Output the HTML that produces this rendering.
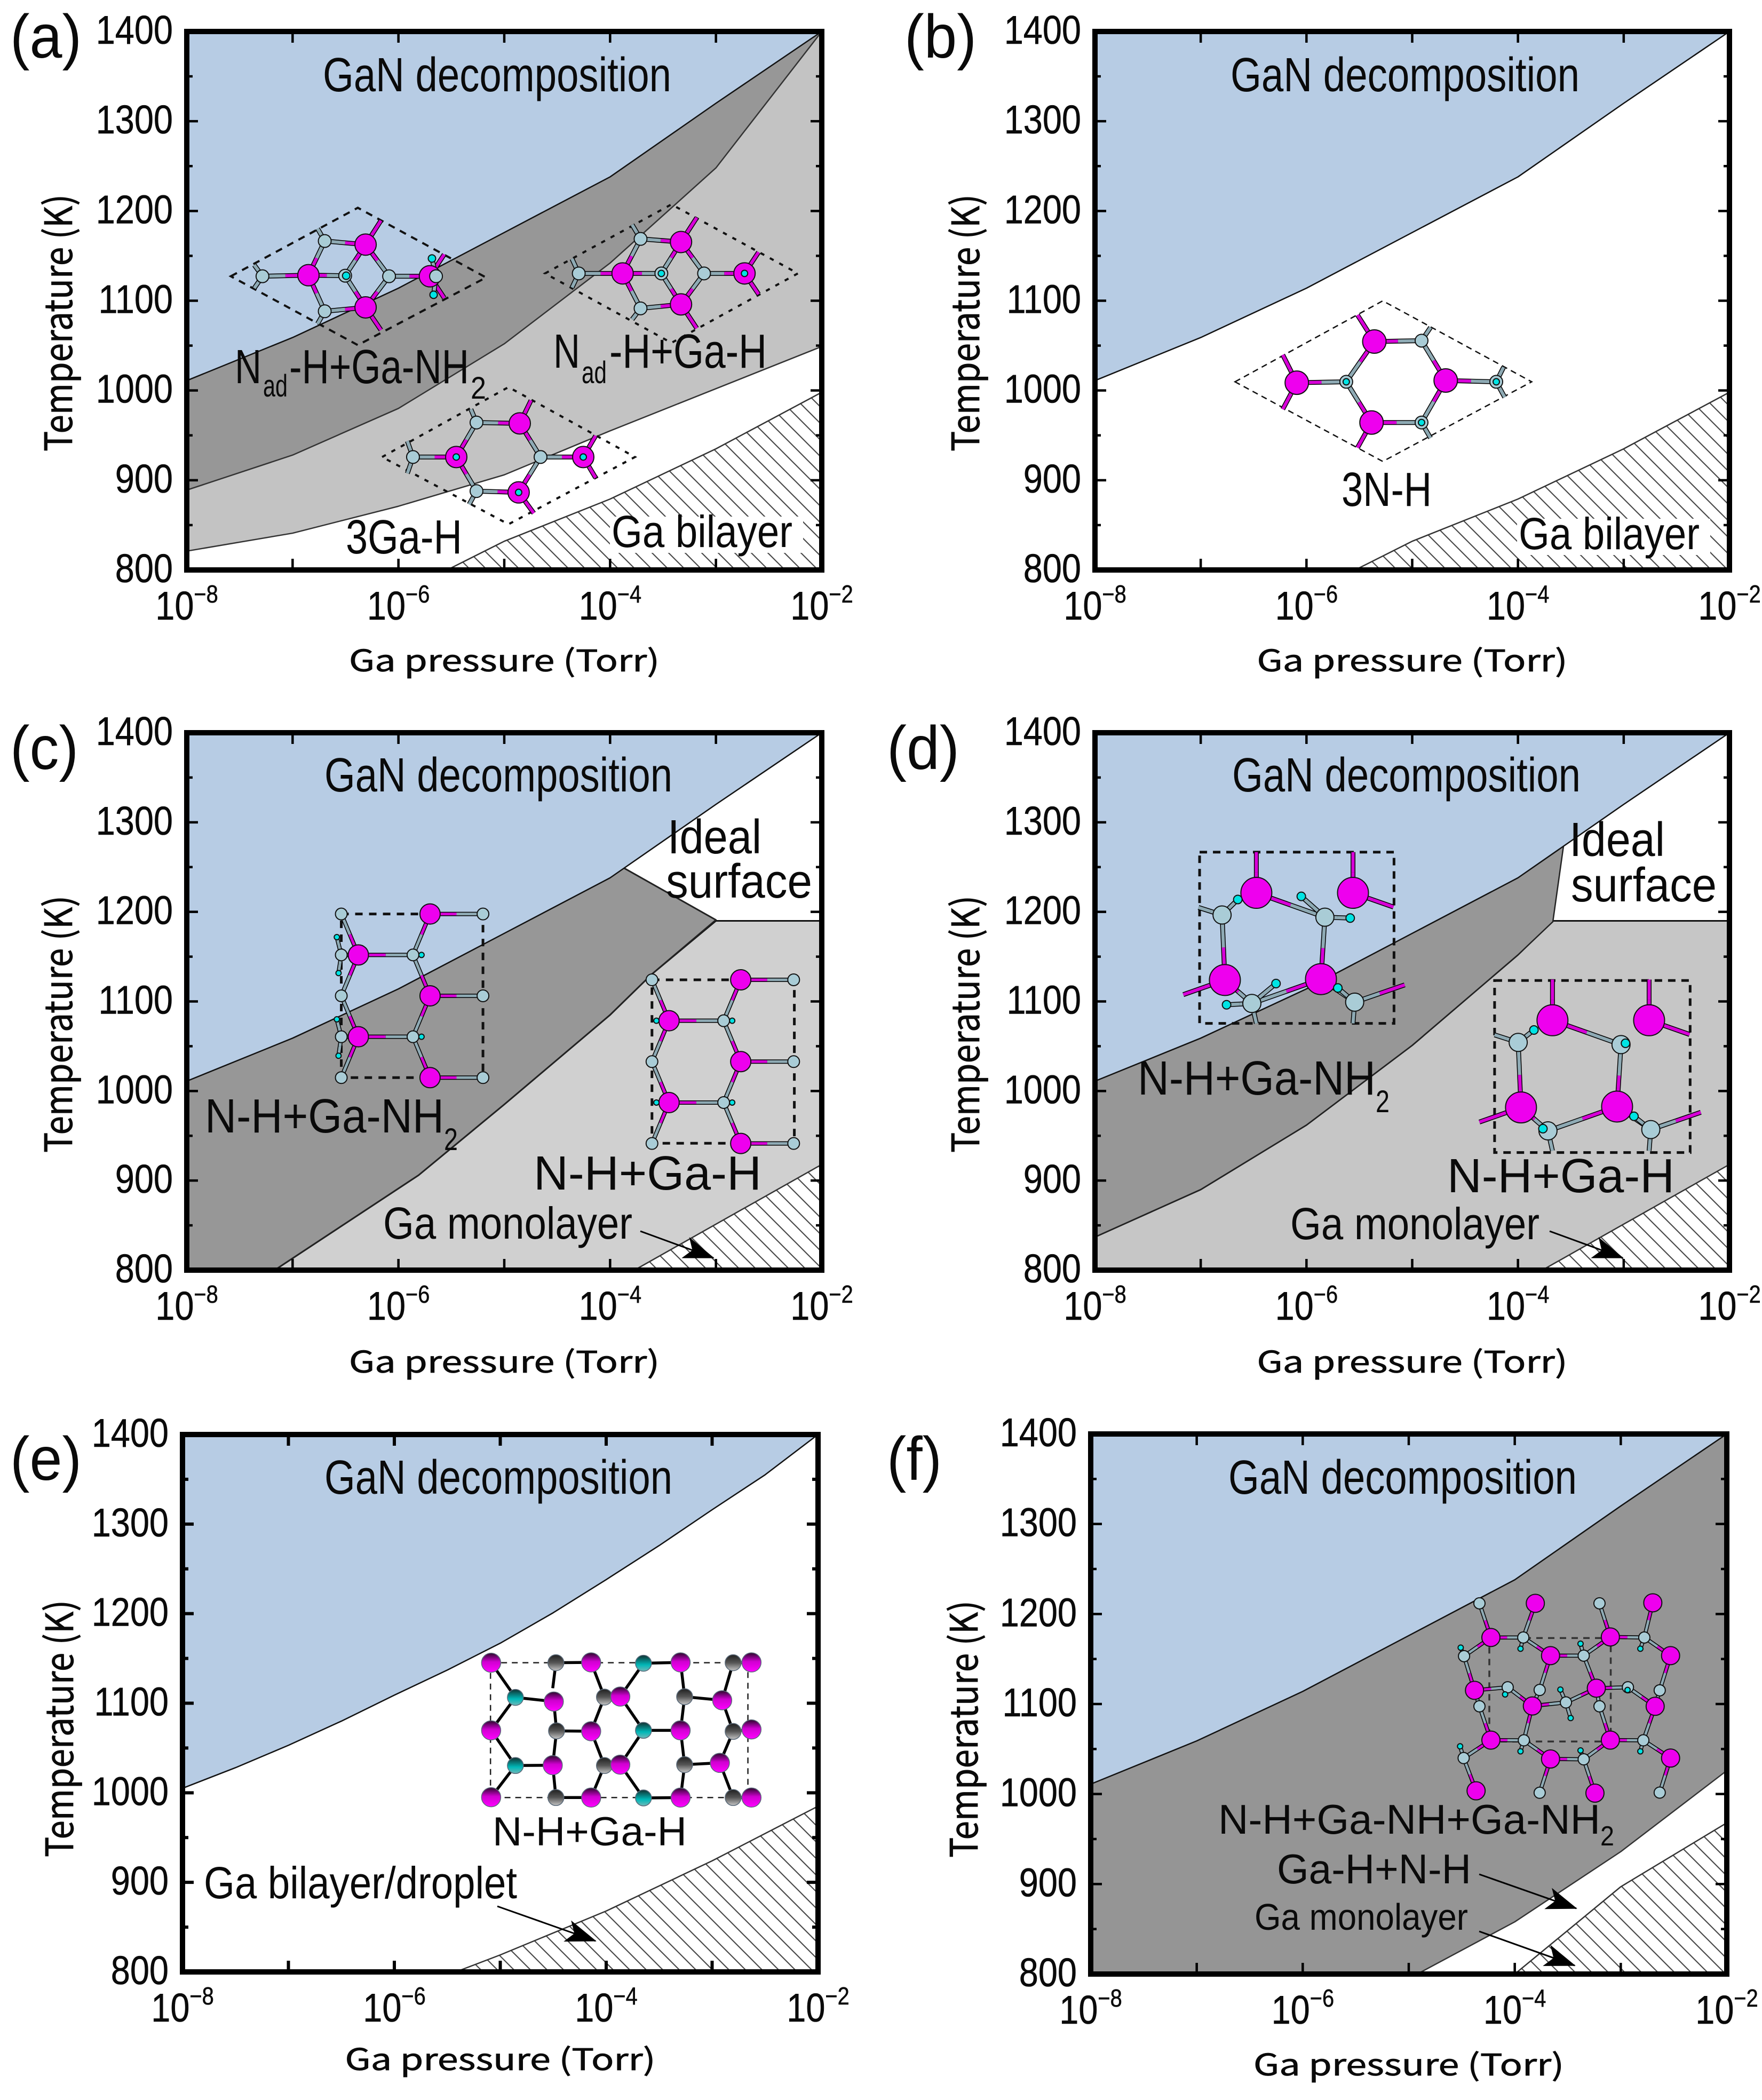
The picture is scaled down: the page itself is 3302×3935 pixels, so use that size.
<!DOCTYPE html>
<html lang="en">
<head>
<meta charset="utf-8">
<title>GaN surface phase diagrams</title>
<style>
html,body{margin:0;padding:0;background:#fff;}
svg{display:block;}
text{font-family:"Liberation Sans","Noto Sans CJK JP",sans-serif;fill:#0a0a0a;}
.axis-title{font-family:"Noto Sans CJK JP","Liberation Sans",sans-serif;font-weight:400;stroke:#0a0a0a;stroke-width:.8px;}
.tick-text{stroke:#0a0a0a;stroke-width:.6px;}
</style>
</head>
<body>
<svg id="figure" xmlns="http://www.w3.org/2000/svg" width="3302" height="3935" viewBox="0 0 3302 3935">
<defs>
<pattern id="hatch" patternUnits="userSpaceOnUse" width="31" height="31">
<path d="M-8 -8L39 39M-8 23L8 39M23 -8L39 8" stroke="#4a4a4a" stroke-width="2.2" fill="none"/>
</pattern>
<marker id="arrow-head" markerUnits="userSpaceOnUse" markerWidth="60" markerHeight="46" refX="56" refY="23" orient="auto">
<path d="M0 2L58 23L0 44L14 23Z" fill="#000"/>
</marker>
<linearGradient id="ga-shade" x1="0" y1="0" x2="0" y2="1"><stop offset="0" stop-color="#2a082a"/><stop offset=".45" stop-color="#d000d0"/><stop offset="1" stop-color="#ff00ff"/></linearGradient>
<linearGradient id="n-shade" x1="0" y1="0" x2="0" y2="1"><stop offset="0" stop-color="#202020"/><stop offset=".5" stop-color="#555"/><stop offset="1" stop-color="#c4c4c4"/></linearGradient>
<linearGradient id="teal-shade" x1="0" y1="0" x2="0" y2="1"><stop offset="0" stop-color="#103030"/><stop offset=".6" stop-color="#00b8b8"/><stop offset="1" stop-color="#70b8b8"/></linearGradient>
</defs>

<rect x="0" y="0" width="3302" height="3935" fill="#fff"/>
<g id="panel-a"></g>
<g id="panel-b"></g>
<g id="panel-c"></g>
<g id="panel-d"></g>
<g id="panel-e"></g>
<g id="panel-f"></g>

<!-- Panel letters -->
<text x="19" y="108" font-size="115" textLength="134" lengthAdjust="spacingAndGlyphs">(a)</text>
<text x="1695" y="108" font-size="115" textLength="135" lengthAdjust="spacingAndGlyphs">(b)</text>
<text x="19" y="1441" font-size="115" textLength="128" lengthAdjust="spacingAndGlyphs">(c)</text>
<text x="1662" y="1441" font-size="115" textLength="136" lengthAdjust="spacingAndGlyphs">(d)</text>
<text x="19" y="2773" font-size="115" textLength="134" lengthAdjust="spacingAndGlyphs">(e)</text>
<text x="1662" y="2773" font-size="115" textLength="103" lengthAdjust="spacingAndGlyphs">(f)</text>

<!-- Panel a annotations -->
<g>
<text x="605" y="171" font-size="90" textLength="653" lengthAdjust="spacingAndGlyphs">GaN decomposition</text>
<text x="440" y="718" font-size="90" textLength="50" lengthAdjust="spacingAndGlyphs">N</text>
<text x="493" y="743" font-size="58" textLength="46" lengthAdjust="spacingAndGlyphs">ad</text>
<text x="542" y="718" font-size="90" textLength="337" lengthAdjust="spacingAndGlyphs">-H+Ga-NH</text>
<text x="882" y="747" font-size="58" textLength="29" lengthAdjust="spacingAndGlyphs">2</text>
<text x="1037" y="689" font-size="90" textLength="50" lengthAdjust="spacingAndGlyphs">N</text>
<text x="1090" y="718" font-size="58" textLength="47" lengthAdjust="spacingAndGlyphs">ad</text>
<text x="1142" y="689" font-size="90" textLength="295" lengthAdjust="spacingAndGlyphs">-H+Ga-H</text>
<text x="648" y="1037" font-size="90" textLength="218" lengthAdjust="spacingAndGlyphs">3Ga-H</text>
<rect x="1143" y="968" width="362" height="68" fill="#fff"/>
<text x="1146" y="1025" font-size="84" textLength="339" lengthAdjust="spacingAndGlyphs">Ga bilayer</text>
</g>

<!-- Panel b annotations -->
<g>
<text x="2306" y="171" font-size="90" textLength="654" lengthAdjust="spacingAndGlyphs">GaN decomposition</text>
<text x="2514" y="948" font-size="90" textLength="169" lengthAdjust="spacingAndGlyphs">3N-H</text>
<rect x="2843" y="972" width="362" height="68" fill="#fff"/>
<text x="2846" y="1029" font-size="84" textLength="339" lengthAdjust="spacingAndGlyphs">Ga bilayer</text>
</g>

<!-- Panel c annotations -->
<g>
<text x="608" y="1483" font-size="90" textLength="652" lengthAdjust="spacingAndGlyphs">GaN decomposition</text>
<text x="1251" y="1599" font-size="90" textLength="176" lengthAdjust="spacingAndGlyphs">Ideal</text>
<text x="1248" y="1682" font-size="90" textLength="274" lengthAdjust="spacingAndGlyphs">surface</text>
<text x="384" y="2122" font-size="90" textLength="448" lengthAdjust="spacingAndGlyphs">N-H+Ga-NH</text>
<text x="832" y="2155" font-size="58" textLength="26" lengthAdjust="spacingAndGlyphs">2</text>
<text x="1000" y="2229" font-size="90" textLength="427" lengthAdjust="spacingAndGlyphs">N-H+Ga-H</text>
<text x="718" y="2321" font-size="84" textLength="467" lengthAdjust="spacingAndGlyphs">Ga monolayer</text>
<line x1="1200" y1="2307" x2="1337" y2="2357" stroke="#000" stroke-width="3" marker-end="url(#arrow-head)"/>
</g>

<!-- Panel d annotations -->
<g>
<text x="2309" y="1483" font-size="90" textLength="653" lengthAdjust="spacingAndGlyphs">GaN decomposition</text>
<text x="2941" y="1604" font-size="90" textLength="179" lengthAdjust="spacingAndGlyphs">Ideal</text>
<text x="2944" y="1689" font-size="90" textLength="273" lengthAdjust="spacingAndGlyphs">surface</text>
<text x="2132" y="2051" font-size="90" textLength="446" lengthAdjust="spacingAndGlyphs">N-H+Ga-NH</text>
<text x="2578" y="2084" font-size="58" textLength="26" lengthAdjust="spacingAndGlyphs">2</text>
<text x="2712" y="2234" font-size="90" textLength="426" lengthAdjust="spacingAndGlyphs">N-H+Ga-H</text>
<text x="2418" y="2322" font-size="84" textLength="467" lengthAdjust="spacingAndGlyphs">Ga monolayer</text>
<line x1="2904" y1="2307" x2="3041" y2="2357" stroke="#000" stroke-width="3" marker-end="url(#arrow-head)"/>
</g>

<!-- Panel e annotations -->
<g>
<text x="608" y="2799" font-size="90" textLength="652" lengthAdjust="spacingAndGlyphs">GaN decomposition</text>
<text x="923" y="3458" font-size="76" textLength="364" lengthAdjust="spacingAndGlyphs">N-H+Ga-H</text>
<text x="382" y="3557" font-size="84" textLength="587" lengthAdjust="spacingAndGlyphs">Ga bilayer/droplet</text>
<line x1="932" y1="3572" x2="1116" y2="3637" stroke="#000" stroke-width="3" marker-end="url(#arrow-head)"/>
</g>

<!-- Panel f annotations -->
<g>
<text x="2302" y="2799" font-size="90" textLength="653" lengthAdjust="spacingAndGlyphs">GaN decomposition</text>
<text x="2283" y="3436" font-size="78" textLength="716" lengthAdjust="spacingAndGlyphs">N-H+Ga-NH+Ga-NH</text>
<text x="2999" y="3458" font-size="52" textLength="26" lengthAdjust="spacingAndGlyphs">2</text>
<text x="2393" y="3529" font-size="78" textLength="364" lengthAdjust="spacingAndGlyphs">Ga-H+N-H</text>
<text x="2351" y="3616" font-size="70" textLength="400" lengthAdjust="spacingAndGlyphs">Ga monolayer</text>
<line x1="2772" y1="3512" x2="2954" y2="3576" stroke="#000" stroke-width="3" marker-end="url(#arrow-head)"/>
<line x1="2772" y1="3619" x2="2951" y2="3683" stroke="#000" stroke-width="3" marker-end="url(#arrow-head)"/>
</g>
</svg>

<script>
// ---------- chart data (log10 Ga pressure in Torr, temperature in K) ----------
const decompLogP = [-8, -7, -6, -5, -4, -3, -2];
const decompT = [1011, 1059, 1114, 1176, 1238, 1320, 1400];

const eDecompLogP = [-8, -7.5, -7, -6.5, -6, -5.5, -5, -4.5, -4, -3.5, -3, -2.5, -2];
const eDecompT = [1005, 1028, 1053, 1080, 1109, 1137, 1167, 1201, 1238, 1276, 1316, 1355, 1400];

const aUpperLogP = [-8, -7, -6, -5, -4, -3, -2];
const aUpperT = [889, 928, 980, 1052, 1142, 1248, 1400];
const aLowerLogP = [-8, -7, -6, -5, -4, -3, -2];
const aLowerT = [821, 841, 871, 906, 955, 1002, 1049];

const bilayerLogP = [-5.54, -5, -4, -3, -2];
const bilayerT = [800, 832, 879, 935, 998];

const cBoundaryLogP = [-7.17, -5.81, -5, -4, -3.61, -3, -3.87];
const cBoundaryT = [800, 906, 985, 1085, 1130, 1191, 1249];
const cFlatLogP = [-7.17, -5.81, -5, -4, -3.61, -3, -2];
const cFlatT = [800, 906, 985, 1085, 1130, 1190, 1190];

const dBoundaryLogP = [-8, -7, -6, -5, -4, -3.67, -3.57];
const dBoundaryT = [837, 890, 962, 1051, 1152, 1189, 1273];
const dFlatLogP = [-8, -7, -6, -5, -4, -3.67, -2];
const dFlatT = [837, 890, 962, 1051, 1152, 1190, 1190];

const monolayerLogP = [-3.77, -2];
const monolayerT = [800, 918];

const eDropletLogP = [-5.42, -5, -4, -3, -2];
const eDropletT = [800, 819, 868, 924, 985];

const fBoundaryLogP = [-4.92, -4, -3, -2];
const fBoundaryT = [800, 858, 936, 1026];
const fMonolayerLogP = [-4, -3, -2];
const fMonolayerT = [800, 897, 968];

const tempTickLabels = [800, 900, 1000, 1100, 1200, 1300, 1400];
const pressureExponentLabels = [-8, -6, -4, -2];
const xAxisTitle = 'Ga pressure (Torr)';
const yAxisTitle = 'Temperature (K)';

const BLUE = '#b7cce4', DARK = '#979797';

const PANELS = {
  a:{l:350,r:1540,t:59,b:1068,yTitleX:135,yTitleC:605,xTitleDy:190,tickW:4.5},
  b:{l:2052,r:3241,t:59,b:1068,yTitleX:1835,yTitleC:605,xTitleDy:190,tickW:4.5},
  c:{l:350,r:1540,t:1373,b:2380,yTitleX:135,yTitleC:1919,xTitleDy:192,tickW:4.5},
  d:{l:2052,r:3241,t:1373,b:2380,yTitleX:1835,yTitleC:1919,xTitleDy:192,tickW:4.5},
  e:{l:342,r:1533,t:2688,b:3695,yTitleX:137,yTitleC:3239,xTitleDy:184,tickW:6},
  f:{l:2044,r:3236,t:2687,b:3699,yTitleX:1832,yTitleC:3240,xTitleDy:190,tickW:4.5}
};

const SVGNS = 'http://www.w3.org/2000/svg';
function make(tag, name, attrs, parent){
  const el = document.createElementNS(SVGNS, tag);
  
  
  for (const k in attrs) el.setAttribute(k, attrs[k]);
  parent.appendChild(el);
  return el;
}
function xScale(p, v){ return p.l + (v + 8) / 6 * (p.r - p.l); }
function yScale(p, v){ return p.b - (v - 800) / 600 * (p.b - p.t); }
function pointList(p, xs, ys){ return xs.map((x, i) => xScale(p, x) + ',' + yScale(p, ys[i])); }

// region bounded by a curve; extra closes the polygon in data coordinates
function region(g, p, name, xs, ys, fill, before, after){
  const pts = [];
  before.forEach(c => pts.push(xScale(p, c[0]) + ',' + yScale(p, c[1])));
  pointList(p, xs, ys).forEach(s => pts.push(s));
  after.forEach(c => pts.push(xScale(p, c[0]) + ',' + yScale(p, c[1])));
  make('polygon', name, {points: pts.join(' '), fill: fill}, g);
}
function curve(g, p, name, xs, ys, color, w){
  make('polyline', name, {points: pointList(p, xs, ys).join(' '), fill: 'none', stroke: color, 'stroke-width': w, 'stroke-linejoin': 'round'}, g);
}
function aboveDecomp(g, p, xs, ys){
  region(g, p, 'gan-decomposition-region', xs, ys, BLUE, [], [[-2,1400],[-8,1400]]);
  curve(g, p, 'gan-decomposition-boundary', xs, ys, '#111', 2.5);
}
function hatched(g, p, name, xs, ys){
  region(g, p, name + '-base', xs, ys, '#fff', [], [[-2,800]]);
  region(g, p, name, xs, ys, 'url(#hatch)', [], [[-2,800]]);
  curve(g, p, name + '-boundary', xs, ys, '#333', 2.5);
}

function drawAxes(g, p, key){
  make('rect', 'plot-frame', {x:p.l, y:p.t, width:p.r-p.l, height:p.b-p.t, fill:'none', stroke:'#000', 'stroke-width':10}, g);
  for (let e = -7; e <= -3; e++){
    const x = xScale(p, e);
    make('line', 'x-tick-bottom', {x1:x, x2:x, y1:p.b, y2:p.b-21, stroke:'#000', 'stroke-width':p.tickW}, g);
    make('line', 'x-tick-top', {x1:x, x2:x, y1:p.t, y2:p.t+21, stroke:'#000', 'stroke-width':p.tickW}, g);
  }
  tempTickLabels.forEach((T, i) => {
    const y = yScale(p, T);
    if (i > 0 && i < tempTickLabels.length - 1){
      make('line', 'y-tick-left', {x1:p.l, x2:p.l+21, y1:y, y2:y, stroke:'#000', 'stroke-width':p.tickW}, g);
      make('line', 'y-tick-right', {x1:p.r, x2:p.r-21, y1:y, y2:y, stroke:'#000', 'stroke-width':p.tickW}, g);
    }
    if (i < tempTickLabels.length - 1){
      const ym = yScale(p, (T + tempTickLabels[i+1]) / 2);
      make('line', 'y-minor-tick-left', {x1:p.l, x2:p.l+11, y1:ym, y2:ym, stroke:'#000', 'stroke-width':p.tickW}, g);
      make('line', 'y-minor-tick-right', {x1:p.r, x2:p.r-11, y1:ym, y2:ym, stroke:'#000', 'stroke-width':p.tickW}, g);
    }
    const t = make('text', 'y-tick-label', {class:'tick-text', x:0, y:0, 'font-size':75, 'text-anchor':'end', transform:'translate(' + (p.l-26) + ',' + (y+23) + ') scale(0.865,1)'}, g);
    t.textContent = String(T);
  });
  pressureExponentLabels.forEach(e => {
    const t = make('text', 'x-tick-label', {class:'tick-text', x:0, y:0, 'font-size':75, 'text-anchor':'middle', transform:'translate(' + xScale(p, e) + ',' + (p.b+93) + ') scale(0.865,1)'}, g);
    const base = make('tspan', 'x-tick-base', {}, t);
    base.textContent = '10';
    const exp = make('tspan', 'x-tick-exponent', {dy:-32, 'font-size':46}, t);
    exp.textContent = '\u2212' + Math.abs(e);
  });
  const xt = make('text', 'x-axis-title', {class:'axis-title', x:(p.l+p.r)/2, y:p.b+p.xTitleDy, 'font-size':56, 'text-anchor':'middle', textLength:582, lengthAdjust:'spacingAndGlyphs'}, g);
  xt.textContent = xAxisTitle;
  const yt = make('text', 'y-axis-title', {class:'axis-title', x:0, y:0, 'font-size':71, 'text-anchor':'middle', textLength:482, lengthAdjust:'spacingAndGlyphs', transform:'translate('+p.yTitleX+','+p.yTitleC+') rotate(-90)'}, g);
  yt.textContent = yAxisTitle;
}

// ---------- regions per panel ----------
function drawRegions(){
  let p = PANELS.a, g = document.getElementById('panel-a');
  region(g, p, 'nad-h-ga-h-region', aLowerLogP, aLowerT, '#c3c3c3', [], [[-2,1400],[-8,1400]]);
  curve(g, p, 'nad-h-ga-h-lower-boundary', aLowerLogP, aLowerT, '#333', 2.5);
  region(g, p, 'nad-h-ga-nh2-region', aUpperLogP, aUpperT, DARK, [], [[-8,1400]]);
  curve(g, p, 'nad-h-ga-nh2-lower-boundary', aUpperLogP, aUpperT, '#333', 2.5);
  aboveDecomp(g, p, decompLogP, decompT);
  hatched(g, p, 'ga-bilayer-region', bilayerLogP, bilayerT);

  p = PANELS.b; g = document.getElementById('panel-b');
  aboveDecomp(g, p, decompLogP, decompT);
  hatched(g, p, 'ga-bilayer-region', bilayerLogP, bilayerT);

  p = PANELS.c; g = document.getElementById('panel-c');
  region(g, p, 'n-h-ga-h-region', cFlatLogP, cFlatT, '#d0d0d0', [], [[-2,800]]);
  curve(g, p, 'n-h-ga-h-upper-boundary', cFlatLogP, cFlatT, '#111', 3);
  region(g, p, 'n-h-ga-nh2-region', cBoundaryLogP, cBoundaryT, DARK, [[-8,800]], [[-8,1400]]);
  curve(g, p, 'n-h-ga-nh2-boundary', cBoundaryLogP, cBoundaryT, '#222', 3);
  aboveDecomp(g, p, decompLogP, decompT);
  hatched(g, p, 'ga-monolayer-region', monolayerLogP, monolayerT);

  p = PANELS.d; g = document.getElementById('panel-d');
  region(g, p, 'n-h-ga-h-region', dFlatLogP, dFlatT, '#c6c6c6', [], [[-2,800],[-8,800]]);
  curve(g, p, 'n-h-ga-h-upper-boundary', dFlatLogP, dFlatT, '#111', 3);
  region(g, p, 'n-h-ga-nh2-region', dBoundaryLogP, dBoundaryT, DARK, [], [[-8,1400]]);
  curve(g, p, 'n-h-ga-nh2-boundary', dBoundaryLogP, dBoundaryT, '#222', 2.5);
  aboveDecomp(g, p, decompLogP, decompT);
  hatched(g, p, 'ga-monolayer-region', monolayerLogP, monolayerT);

  p = PANELS.e; g = document.getElementById('panel-e');
  aboveDecomp(g, p, eDecompLogP, eDecompT);
  hatched(g, p, 'ga-bilayer-droplet-region', eDropletLogP, eDropletT);

  p = PANELS.f; g = document.getElementById('panel-f');
  region(g, p, 'n-h-ga-nh-ga-nh2-region', fBoundaryLogP, fBoundaryT, '#959595', [[-8,800]], [[-2,1400],[-8,1400]]);
  curve(g, p, 'n-h-ga-nh-ga-nh2-boundary', fBoundaryLogP, fBoundaryT, '#333', 2.5);
  aboveDecomp(g, p, decompLogP, decompT);
  hatched(g, p, 'ga-monolayer-region', fMonolayerLogP, fMonolayerT);
}

// ---------- molecule insets (illustrations, measured in crop coordinates) ----------
function molecule(parentId, name, s){
  const root = document.getElementById(parentId);
  const g = make('g', name, {}, root);
  const mx = x => s.ox + x * s.sx, my = y => s.oy + y * s.sy;
  const w = s.bw || 6;
  const fills = Object.assign({G:'#ee00ee', N:'#a9ccd6', T:'#00a8a8', H:'#00e4e4'}, s.fills || {});
  const bondCol = Object.assign({G:'#d800d8', N:'#8eaab4', T:'#8eaab4', H:'#8eaab4'}, s.bondCol || {});
  const types = {};
  ['G','N','T','H'].forEach(t => (s[t] || []).forEach(a => { if (!types[a[0]+','+a[1]]) types[a[0]+','+a[1]] = t; }));
  if (s.rect || s.dash){
    let pts = s.dash;
    if (s.rect) { const r = s.rect; pts = [r[0],r[1],r[2],r[1],r[2],r[3],r[0],r[3]]; }
    const out = [];
    for (let i = 0; i < pts.length; i += 2) out.push(mx(pts[i]) + ',' + my(pts[i+1]));
    make('polygon', 'unit-cell-outline', {points: out.join(' '), fill:'none', stroke:s.dashCol || '#111', 'stroke-width':s.dashW || 3, 'stroke-dasharray':s.dashPat || '13 11'}, g);
  }
  (s.bonds || []).forEach(b => {
    const a = [mx(b[0]), my(b[1])], c = [mx(b[2]), my(b[3])];
    const ta = types[b[0]+','+b[1]] || 'N', tc = b[4] || types[b[2]+','+b[3]] || ta;
    make('line', 'bond-outline', {x1:a[0], y1:a[1], x2:c[0], y2:c[1], stroke:'#000', 'stroke-width':w+3}, g);
    const m = [(a[0]+c[0])/2, (a[1]+c[1])/2];
    make('line', 'bond', {x1:a[0], y1:a[1], x2:m[0], y2:m[1], stroke:bondCol[ta], 'stroke-width':w}, g);
    make('line', 'bond', {x1:m[0], y1:m[1], x2:c[0], y2:c[1], stroke:bondCol[tc], 'stroke-width':w}, g);
  });
  const labels = {G:'ga-atom', N:'n-atom', T:'n-atom', H:'h-atom'};
  const radii = {G:s.rG, N:s.rN, T:s.rN, H:s.rH || 6};
  (s.order || 'GNTH').split('').forEach(t => (s[t] || []).forEach(a => {
    make('circle', labels[t], {cx:mx(a[0]), cy:my(a[1]), r:radii[t], fill:fills[t], stroke:s.atomStroke || '#111', 'stroke-width':s.atomW || 2}, g);
  }));
}

function drawMolecules(){
  const Z1 = {ox:0, oy:0, sx:1.053, sy:0.829};
  molecule('panel-a', 'nad-h-ga-nh2-structure', {ox:400, oy:350, sx:0.3827, sy:0.3333, rG:20, rN:12, rH:7,
    dash:[85,503,707,118,1335,510,707,890], dashW:4,
    G:[[745,325],[465,497],[745,678],[1060,503]],
    N:[[545,305],[240,503],[645,500],[860,503],[545,700],[1090,503]],
    H:[[650,500],[1070,403],[1078,607]],
    bonds:[[545,305,745,325],[545,305,465,497],[465,497,545,700],[545,700,745,678],[745,678,860,503],[860,503,745,325],[240,503,465,497],[465,497,645,500],[645,500,745,325],[645,500,745,678],[860,503,1060,503],[745,325,820,190],[745,678,820,805],[545,305,510,235],[545,700,510,770],[240,503,200,440],[240,503,200,570],[1060,503,1130,380],[1060,503,1130,625],[1090,503,1070,403],[1090,503,1078,607]]});
  molecule('panel-a', 'nad-h-ga-h-structure', Object.assign({}, Z1, {rG:20, rN:12, rH:6,
    dash:[970,618,1195,462,1420,618,1195,775], dashW:4, dashPat:'8 12',
    G:[[1212,547],[1108,618],[1212,688],[1325,618]],
    N:[[1140,540],[1030,618],[1177,618],[1253,618],[1140,697]],
    H:[[1177,618],[1325,618]],
    bonds:[[1140,540,1212,547],[1140,540,1108,618],[1108,618,1140,697],[1140,697,1212,688],[1212,688,1253,618],[1253,618,1212,547],[1030,618,1108,618],[1108,618,1177,618],[1177,618,1212,547],[1177,618,1212,688],[1253,618,1325,618],[1212,547,1240,492],[1212,688,1240,742],[1140,540,1125,508],[1140,697,1125,722],[1030,618,1018,585],[1030,618,1018,650],[1325,618,1350,570],[1325,618,1350,665]]}));
  molecule('panel-a', '3ga-h-structure', Object.assign({}, Z1, {rG:20, rN:12, rH:6,
    dash:[680,1033,905,875,1130,1033,905,1185], dashW:4, dashPat:'8 12',
    G:[[925,957],[812,1033],[923,1113],[1038,1033]],
    N:[[848,955],[735,1033],[962,1033],[848,1110]],
    H:[[812,1033],[923,1113],[1038,1033]],
    bonds:[[848,955,925,957],[925,957,962,1033],[962,1033,923,1113],[923,1113,848,1110],[848,1110,812,1033],[812,1033,848,955],[735,1033,812,1033],[962,1033,1038,1033],[925,957,945,905],[1038,1033,1060,985],[1038,1033,1060,1080],[923,1113,950,1160],[735,1033,725,997],[735,1033,725,1070],[848,955,838,925],[848,1110,835,1140]]}));
  molecule('panel-b', '3n-h-structure', {ox:1651, oy:0, sx:1.053, sy:0.829, rG:22, rN:12, rH:6,
    dash:[630,863,893,680,1158,863,893,1043], dashW:2.5, dashPat:'11 8',
    G:[[878,772],[740,865],[1005,860],[873,955]],
    N:[[962,770],[828,863],[1095,863],[962,955]],
    H:[[828,863],[1095,863],[962,955]],
    bonds:[[878,772,962,770],[962,770,1005,860],[1005,860,962,955],[962,955,873,955],[873,955,828,863],[828,863,878,772],[740,865,828,863],[1005,860,1095,863],[878,772,848,712],[740,865,715,802],[740,865,715,925],[873,955,848,1012],[962,770,978,740],[1095,863,1108,830],[1095,863,1110,898],[962,955,978,990]]});

  const cG = [[400,158],[190,388],[400,618],[190,848],[400,1078]];
  const cN = [[140,158],[555,158],[350,388],[140,618],[555,618],[350,848],[140,1078],[555,1078]];
  const cB = [[140,158,190,388],[190,388,140,618],[140,618,190,848],[190,848,140,1078],[400,158,350,388],[350,388,400,618],[400,618,350,848],[350,848,400,1078],[400,158,555,158],[400,618,555,618],[400,1078,555,1078],[190,388,350,388],[190,848,350,848]];
  molecule('panel-c', 'n-h-ga-nh2-structure', {ox:550, oy:1660, sx:0.6398, sy:0.3333, rG:19, rN:11, rH:5, bw:5,
    rect:[140,158,555,1078], dashW:5, dashPat:'14 12',
    G:cG, N:cN.concat([[140,388],[140,848]]), H:[[375,388],[127,288],[132,490],[375,848],[127,750],[132,955]],
    bonds:cB.concat([[140,388,190,388],[140,848,190,848],[140,388,127,288],[140,388,132,490],[140,848,127,750],[140,848,132,955],[350,388,375,388],[350,848,375,848]]), order:'NGH'});
  const off = (arr, dx, dy) => arr.map(a => { const o = a.slice(); o[0]+=dx; o[1]+=dy; if (o.length>2){o[2]+=dx;o[3]+=dy;} return o; });
  molecule('panel-c', 'n-h-ga-h-structure', {ox:550, oy:1660, sx:0.6398, sy:0.3333, rG:19, rN:11, rH:5, bw:5,
    rect:[1050,528,1467,1447], dashW:5, dashPat:'14 12',
    G:off(cG,910,370), N:off(cN,910,370), H:[[1063,758],[1285,758],[1063,1218],[1285,1218]],
    bonds:off(cB,910,370).concat([[1100,758,1063,758],[1100,1218,1063,1218],[1260,758,1285,758],[1260,1218,1285,1218]]), order:'NGH'});

  const Z2 = {ox:1651, oy:1300, sx:1.053, sy:0.829};
  const dG = [[668,450],[840,450],[612,647],[783,645]];
  const dN = [[607,500],[790,505],[660,700],[843,697]];
  const dB = [[668,450,668,358],[840,450,840,358],[668,450,790,505],[840,450,912,482],[790,505,783,645],[607,500,612,647],[607,500,565,483],[612,647,538,680],[612,647,660,700],[660,700,783,645],[783,645,843,697],[843,697,932,658,'G'],[660,700,668,745],[843,697,840,745]];
  molecule('panel-d', 'n-h-ga-nh2-structure', Object.assign({}, Z2, {rG:29, rN:17, rH:8, bw:6,
    rect:[567,358,913,745], dashW:5, dashPat:'14 11',
    G:dG, N:dN, H:[[635,465],[748,458],[835,507],[703,655],[615,703],[813,665]],
    bonds:dB.concat([[607,500,635,465],[790,505,748,458],[790,505,835,507],[660,700,703,655],[660,700,615,703],[843,697,813,665]])}));
  molecule('panel-d', 'n-h-ga-h-structure', Object.assign({}, Z2, {rG:29, rN:17, rH:8, bw:6,
    rect:[1092,648,1440,1037], dashW:5, dashPat:'14 11',
    G:off(dG,527,288), N:off(dN,527,288), H:[[1162,760],[1325,790],[1178,983],[1340,955]],
    bonds:off(dB,527,288).concat([[1134,788,1162,760],[1317,793,1325,790],[1187,988,1178,983],[1370,985,1340,955]])}));

  molecule('panel-e', 'n-h-ga-h-structure', {ox:850, oy:3050, sx:0.3954, sy:0.3333, rG:18, rN:15, bw:2.5, order:'NTG',
    rect:[175,197,1395,955], dashW:2.5, dashPat:'11 9', dashCol:'#222',
    fills:{G:'url(#ga-shade)', N:'url(#n-shade)', T:'url(#teal-shade)'},
    bondCol:{G:'#000', N:'#000', T:'#000'}, atomStroke:'#5a6a7a', atomW:1.5,
    G:[[178,197],[652,195],[1076,195],[1412,195],[475,415],[790,387],[1273,408],[178,577],[652,582],[1076,577],[1412,572],[470,773],[790,770],[1262,760],[178,953],[652,955],[1076,955],[1412,955]],
    N:[[485,197],[1325,197],[715,390],[1095,388],[488,580],[1325,583],[715,775],[1095,770],[485,955],[1325,955]],
    T:[[900,200],[293,392],[900,577],[293,775],[900,957]],
    bonds:[[178,197,293,392],[293,392,178,577],[178,577,293,775],[293,775,178,953],[293,392,475,415],[293,775,470,773],[485,197,652,195],[485,197,470,340],[475,415,488,580],[488,580,652,582],[488,580,470,773],[470,773,485,955],[485,955,652,955],[652,195,715,390],[715,390,652,582],[652,582,715,775],[715,775,652,955],[900,200,1076,195],[900,200,790,387],[790,387,900,577],[900,577,1076,577],[900,577,790,770],[790,770,900,957],[900,957,1076,955],[1076,195,1095,388],[1095,388,1076,577],[1095,388,1273,408],[1076,577,1095,770],[1095,770,1076,955],[1095,770,1262,760],[1325,197,1412,195],[1325,197,1273,408],[1273,408,1325,583],[1325,583,1412,572],[1325,583,1262,760],[1262,760,1325,955],[1325,955,1412,955]]});

  molecule('panel-f', 'n-h-ga-nh-ga-nh2-structure', {ox:2680, oy:2960, sx:0.37, sy:0.3333, rG:17, rN:10.5, rH:5, bw:4.5,
    rect:[300,328,915,910], dashW:3.5, dashPat:'12 10', dashCol:'#333',
    G:[[533,133],[1128,130],[308,325],[913,322],[610,427],[1218,427],[225,622],[842,610],[518,710],[1140,712],[308,902],[913,902],[610,1008],[1218,1003],[233,1187],[835,1200]],
    N:[[250,133],[858,133],[472,325],[1085,325],[172,430],[778,427],[393,605],[1002,605],[555,620],[1163,622],[250,712],[858,712],[688,690],[475,903],[1080,903],[170,1003],[778,1010],[555,1198],[1163,1197]],
    H:[[155,382],[458,388],[762,360],[1065,388],[380,645],[1000,620],[660,618],[712,778],[152,937],[458,965],[762,960],[1065,965]],
    bonds:[[250,133,308,325],[533,133,472,325],[858,133,913,322],[1128,130,1085,325],[308,325,472,325],[913,322,1085,325],[308,325,172,430],[472,325,610,427],[610,427,778,427],[778,427,913,322],[1085,325,1218,427],[172,430,225,622],[610,427,555,620],[778,427,842,610],[1218,427,1163,622],[225,622,393,605],[393,605,518,710],[518,710,688,690],[688,690,842,610],[842,610,1002,605],[1002,605,1140,712],[555,620,518,710],[1163,622,1140,712],[225,622,250,712],[842,610,858,712],[250,712,308,902],[518,710,475,903],[858,712,913,902],[1140,712,1080,903],[308,902,475,903],[913,902,1080,903],[308,902,170,1003],[475,903,610,1008],[610,1008,778,1010],[778,1010,913,902],[1080,903,1218,1003],[170,1003,233,1187],[610,1008,555,1198],[778,1010,835,1200],[1218,1003,1163,1197],[172,430,155,382],[472,325,458,388],[778,427,762,360],[1085,325,1065,388],[393,605,380,645],[688,690,660,618],[688,690,712,778],[170,1003,152,937],[475,903,458,965],[778,1010,762,960],[1080,903,1065,965]],
    order:'GNH'});
}

drawRegions();
drawMolecules();
Object.keys(PANELS).forEach(k => drawAxes(document.getElementById('panel-' + k), PANELS[k], k));
</script>
</body>
</html>
